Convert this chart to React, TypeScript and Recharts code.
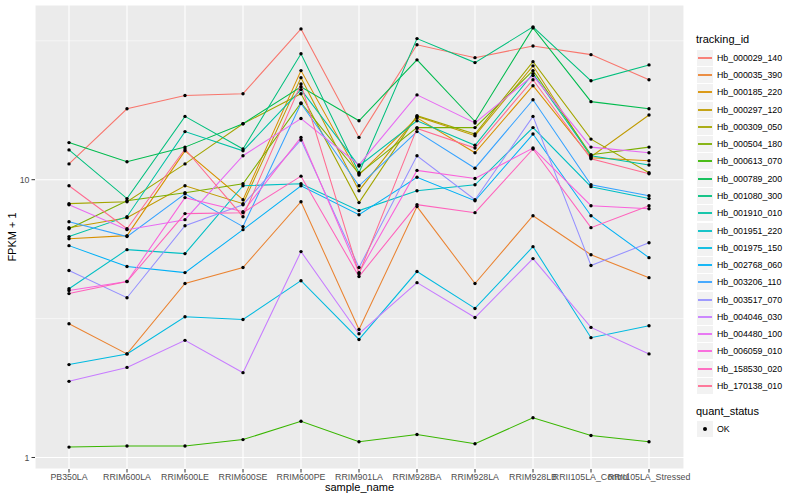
import React from 'react';
import { LineChart, Line, XAxis, YAxis, CartesianGrid, ReferenceLine } from 'recharts';

const samples = [
  'PB350LA', 'RRIM600LA', 'RRIM600LE', 'RRIM600SE', 'RRIM600PE', 'RRIM901LA',
  'RRIM928BA', 'RRIM928LA', 'RRIM928LB', 'RRII105LA_Control', 'RRII105LA_Stressed',
];

// FPKM + 1, one array per gene, in sample order
const hb000029_140 = [11.4, 18.0, 20.1, 20.4, 34.9, 14.2, 30.6, 27.5, 30.3, 28.2, 22.9];
const hb000035_390 = [3.03, 2.36, 4.23, 4.83, 8.33, 2.89, 8.0, 4.23, 7.42, 5.37, 4.44];
const hb000185_220 = [6.13, 6.29, 12.7, 8.47, 24.7, 10.4, 16.7, 12.5, 21.8, 12.0, 11.7];
const hb000297_120 = [6.72, 7.3, 9.51, 8.2, 23.3, 9.13, 16.9, 14.4, 25.7, 12.1, 17.1];
const hb000309_050 = [8.2, 8.33, 11.4, 15.9, 20.4, 8.27, 17.0, 14.6, 26.6, 14.0, 10.6];
const hb000504_180 = [6.66, 8.4, 8.98, 9.67, 18.9, 10.5, 15.4, 15.4, 24.7, 12.3, 13.1];
const hb000613_070 = [1.09, 1.1, 1.1, 1.16, 1.35, 1.14, 1.21, 1.12, 1.39, 1.2, 1.14];
const hb000789_200 = [13.6, 11.6, 13.1, 15.9, 21.6, 16.3, 27.0, 16.2, 35.2, 19.1, 18.0];
const hb001080_300 = [12.8, 8.55, 16.9, 12.9, 28.4, 10.6, 32.2, 26.4, 35.5, 22.7, 25.9];
const hb001910_010 = [6.24, 7.36, 14.9, 12.7, 21.1, 11.2, 16.3, 13.3, 24.1, 12.2, 11.3];
const hb001951_220 = [4.05, 5.6, 5.42, 9.51, 9.67, 7.74, 9.13, 9.59, 15.4, 9.44, 8.55];
const hb001975_150 = [2.16, 2.36, 3.21, 3.14, 4.33, 2.66, 4.67, 3.44, 5.74, 2.7, 2.98];
const hb002768_060 = [5.79, 4.87, 4.63, 6.61, 9.51, 7.48, 10.2, 8.4, 14.6, 7.42, 5.24];
const hb003206_110 = [7.06, 6.24, 8.9, 6.78, 18.8, 9.51, 14.9, 11.0, 19.4, 9.59, 8.76];
const hb003517_070 = [4.71, 3.76, 6.83, 8.13, 13.9, 4.83, 12.2, 8.47, 16.9, 4.91, 5.93];
const hb004046_030 = [1.88, 2.11, 2.64, 2.02, 5.51, 2.79, 4.26, 3.19, 5.2, 2.94, 2.36];
const hb004480_100 = [8.13, 6.61, 7.18, 12.2, 16.6, 11.3, 20.2, 16.0, 23.7, 13.1, 12.5];
const hb006059_010 = [3.99, 4.3, 8.62, 7.67, 14.2, 4.63, 10.8, 10.1, 13.0, 8.06, 7.86];
const hb158530_020 = [3.89, 4.3, 7.55, 7.61, 10.3, 4.48, 8.13, 7.61, 12.9, 6.72, 8.06];
const hb170138_010 = [9.51, 6.66, 12.9, 7.36, 22.1, 4.59, 15.3, 13.0, 22.9, 11.9, 10.5];

const trackingIds = [
  'Hb_000029_140', 'Hb_000035_390', 'Hb_000185_220', 'Hb_000297_120', 'Hb_000309_050',
  'Hb_000504_180', 'Hb_000613_070', 'Hb_000789_200', 'Hb_001080_300', 'Hb_001910_010',
  'Hb_001951_220', 'Hb_001975_150', 'Hb_002768_060', 'Hb_003206_110', 'Hb_003517_070',
  'Hb_004046_030', 'Hb_004480_100', 'Hb_006059_010', 'Hb_158530_020', 'Hb_170138_010',
];

const seriesValues = [
  hb000029_140, hb000035_390, hb000185_220, hb000297_120, hb000309_050,
  hb000504_180, hb000613_070, hb000789_200, hb001080_300, hb001910_010,
  hb001951_220, hb001975_150, hb002768_060, hb003206_110, hb003517_070,
  hb004046_030, hb004480_100, hb006059_010, hb158530_020, hb170138_010,
];

// ggplot default hue palette, 20 levels
const palette = [
  '#F8766D', '#EA8331', '#D89000', '#C09B00', '#A3A500', '#7CAE00', '#39B600',
  '#00BB4E', '#00BF7D', '#00C1A3', '#00BFC4', '#00BAE0', '#00B0F6', '#35A2FF',
  '#9590FF', '#C77CFF', '#E76BF3', '#FA62DB', '#FF62BC', '#FF6C91',
];

const yTicks = [1, 10];
const yMinor = [3.1623, 31.623];

const rows = samples.map((s, i) => {
  const row: Record<string, string | number> = { sample: s };
  trackingIds.forEach((id, k) => {
    row[id] = seriesValues[k][i];
  });
  return row;
});

const font = '"Liberation Sans", Arial, Helvetica, sans-serif';

export default function App() {
  return (
    <div style={{ position: 'absolute', left: 0, top: 0, width: 800, height: 500, fontFamily: font, background: '#fff' }}>
      <LineChart width={800} height={500} data={rows} margin={{ top: 5, right: 116, bottom: 0, left: 0 }}>
        <CartesianGrid fill="#EBEBEB" stroke="#FFFFFF" strokeWidth={1.1} />
        {yMinor.map((v) => (
          <ReferenceLine key={v} y={v} stroke="#FFFFFF" strokeWidth={0.55} />
        ))}
        <XAxis
          dataKey="sample"
          interval={0}
          padding={{ left: 34, right: 35 }}
          height={31}
          axisLine={false}
          tickLine={{ stroke: '#333333' }}
          tickSize={3.5}
          tickMargin={1.5}
          tick={{ fontSize: 8.8, fill: '#4D4D4D', fontFamily: font }}
        />
        <YAxis
          type="number"
          scale="log"
          domain={[0.909, 42.55]}
          allowDataOverflow
          ticks={yTicks}
          width={35}
          axisLine={false}
          tickLine={{ stroke: '#333333' }}
          tickSize={3.5}
          tickMargin={2}
          tick={{ fontSize: 8.8, fill: '#4D4D4D', fontFamily: font }}
        />
        {trackingIds.map((id, k) => (
          <Line
            key={id}
            dataKey={id}
            stroke={palette[k]}
            strokeWidth={1.05}
            dot={false}
            activeDot={false}
            isAnimationActive={false}
          />
        ))}
        {trackingIds.map((id) => (
          <Line
            key={id + '_pt'}
            dataKey={id}
            stroke="none"
            dot={{ r: 1.7, fill: '#000000', stroke: 'none' }}
            activeDot={false}
            isAnimationActive={false}
          />
        ))}
      </LineChart>

      <div style={{ position: 'absolute', left: 35, width: 649, top: 481, textAlign: 'center', fontSize: 11, color: '#000' }}>
        sample_name
      </div>
      <div
        style={{
          position: 'absolute', left: 12, top: 237, fontSize: 11, color: '#000', whiteSpace: 'nowrap',
          transform: 'translate(-50%, -50%) rotate(-90deg)',
        }}
      >
        FPKM + 1
      </div>

      <div style={{ position: 'absolute', left: 696, top: 33, fontSize: 11, color: '#000', whiteSpace: 'nowrap' }}>
        tracking_id
      </div>
      {trackingIds.map((id, k) => {
        const top = Math.round(57.7 + k * 17.28 - 8);
        return (
          <React.Fragment key={id}>
            <div style={{ position: 'absolute', left: 697, top, width: 16, height: 16, background: '#F2F2F2' }}>
              <div style={{ position: 'absolute', left: 1, width: 14, top: 7, height: 2, background: palette[k], opacity: 0.9 }} />
            </div>
            <div style={{ position: 'absolute', left: 717, top: top + 2.5, fontSize: 8.8, color: '#000', whiteSpace: 'nowrap', lineHeight: '11px' }}>
              {id}
            </div>
          </React.Fragment>
        );
      })}

      <div style={{ position: 'absolute', left: 696, top: 405, fontSize: 11, color: '#000', whiteSpace: 'nowrap' }}>
        quant_status
      </div>
      <div style={{ position: 'absolute', left: 697, top: 421, width: 16, height: 16, background: '#F2F2F2' }}>
        <div style={{ position: 'absolute', left: 6, top: 6, width: 4, height: 4, borderRadius: '50%', background: '#000' }} />
      </div>
      <div style={{ position: 'absolute', left: 717, top: 423.5, fontSize: 8.8, color: '#000', whiteSpace: 'nowrap', lineHeight: '11px' }}>
        OK
      </div>
    </div>
  );
}
